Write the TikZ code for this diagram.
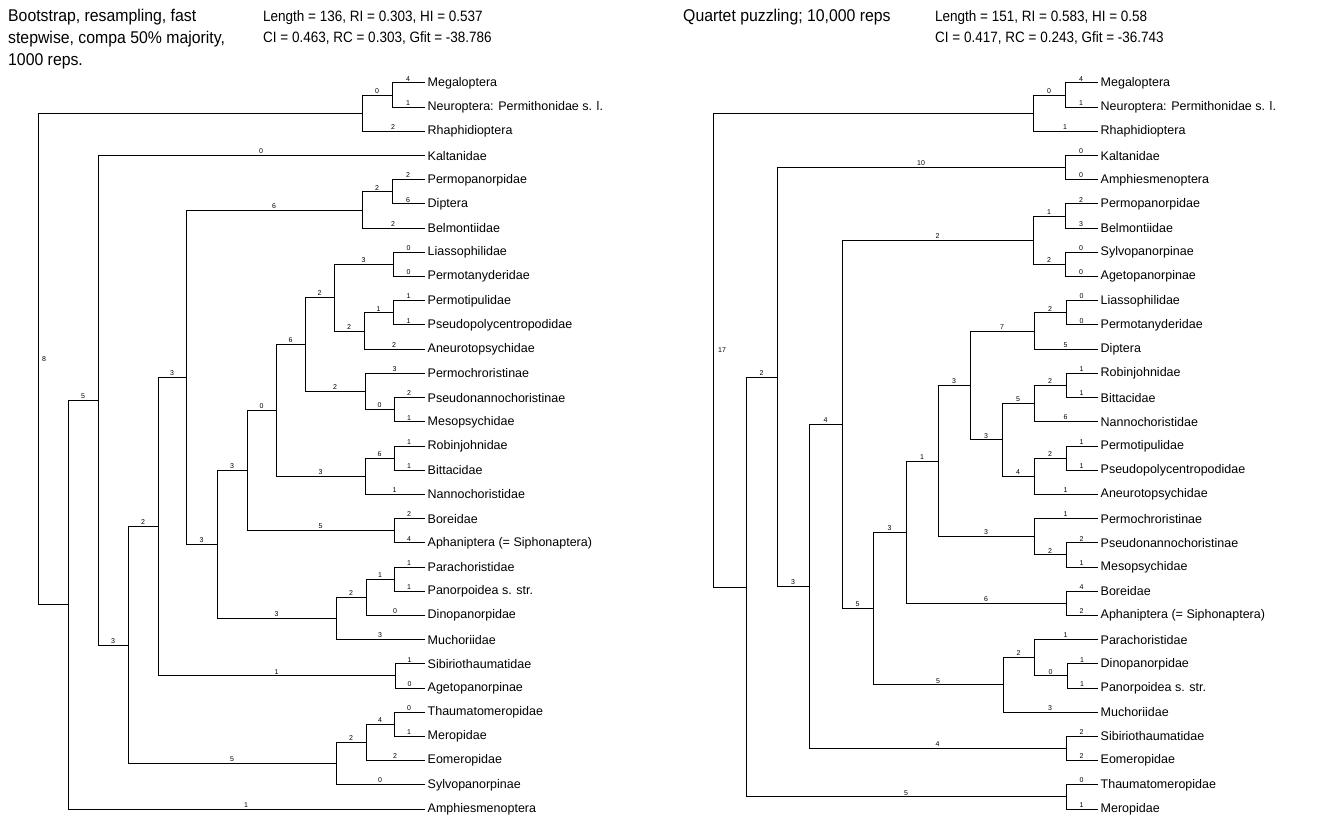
\documentclass[tikz,border=0pt]{standalone}
\usepackage{fontspec}
\setmainfont{Liberation Sans}
\newfontfamily\hdr[FakeStretch=0.93]{Liberation Sans}
\newfontfamily\sts[FakeStretch=0.9]{Liberation Sans}
\tikzset{
  branch/.style={draw=black, line width=1pt, line cap=rect},
  num/.style={pos=0.75, anchor=south, yshift=1.3pt, inner sep=0pt, font=\fontsize{7}{8}\selectfont},
  leaf/.style={anchor=west, inner sep=0pt, font=\fontsize{12.5}{14}\selectfont},
  title/.style={anchor=base west, inner sep=0pt, font=\hdr\fontsize{17}{20}\selectfont},
  stat/.style={anchor=base west, inner sep=0pt, font=\sts\fontsize{15}{18}\selectfont}
}
\newcommand\Lf[4]{\coordinate (#1) at (#2,#3); \node[leaf] (#1t) at ([xshift=3.5pt]#1) {#4};}
\newcommand\E[3]{\draw[branch] (#1) |- node[num]{#3} (#2);}
\begin{document}
\begin{tikzpicture}[x=1pt,y=-1pt]
\path[use as bounding box] (0,0) rectangle (1323,818);
% ---------------- headers
\node[title] (h1) at (8,22) {Bootstrap, resampling, fast};
\node[title] (h2) at (8,44) {stepwise, compa 50\% majority,};
\node[title] (h3) at (8,65.5) {1000 reps.};
\node[stat] (s1) at (263,21.5) {Length = 136, RI = 0.303, HI = 0.537};
\node[stat] (s2) at (263,43) {CI = 0.463, RC = 0.303, Gfit = -38.786};
\node[title] (h4) at (683,21.5) {Quartet puzzling; 10,000 reps};
\node[stat] (s3) at (935,21.5) {Length = 151, RI = 0.583, HI = 0.58};
\node[stat] (s4) at (935,43) {CI = 0.417, RC = 0.243, Gfit = -36.743};
% ---------------- left tree leaves
\Lf{a1}{424}{83}{Megaloptera}
\Lf{a2}{424}{107.2}{Neuroptera: Permithonidae s. l.}
\Lf{a3}{424}{131.4}{Rhaphidioptera}
\Lf{a4}{424}{155.6}{Kaltanidae}
\Lf{a5}{424}{179.8}{Permopanorpidae}
\Lf{a6}{424}{204}{Diptera}
\Lf{a7}{424}{228.2}{Belmontiidae}
\Lf{a8}{424}{252.4}{Liassophilidae}
\Lf{a9}{424}{276.6}{Permotanyderidae}
\Lf{a10}{424}{300.8}{Permotipulidae}
\Lf{a11}{424}{325}{Pseudopolycentropodidae}
\Lf{a12}{424}{349.2}{Aneurotopsychidae}
\Lf{a13}{424}{373.4}{Permochroristinae}
\Lf{a14}{424}{397.6}{Pseudonannochoristinae}
\Lf{a15}{424}{421.8}{Mesopsychidae}
\Lf{a16}{424}{446}{Robinjohnidae}
\Lf{a17}{424}{470.2}{Bittacidae}
\Lf{a18}{424}{494.4}{Nannochoristidae}
\Lf{a19}{424}{518.6}{Boreidae}
\Lf{a20}{424}{542.8}{Aphaniptera (= Siphonaptera)}
\Lf{a21}{424}{567}{Parachoristidae}
\Lf{a22}{424}{591.2}{Panorpoidea s. str.}
\Lf{a23}{424}{615.4}{Dinopanorpidae}
\Lf{a24}{424}{639.6}{Muchoriidae}
\Lf{a25}{424}{663.8}{Sibiriothaumatidae}
\Lf{a26}{424}{688}{Agetopanorpinae}
\Lf{a27}{424}{712.2}{Thaumatomeropidae}
\Lf{a28}{424}{736.4}{Meropidae}
\Lf{a29}{424}{760.6}{Eomeropidae}
\Lf{a30}{424}{784.8}{Sylvopanorpinae}
\Lf{a31}{424}{809}{Amphiesmenoptera}
% left internal nodes
\coordinate (aR) at (38,358.97);
\coordinate (aN1) at (362,113.25);
\coordinate (aN2) at (392,95.1);
\coordinate (aB) at (68,604.68);
\coordinate (aC) at (98,400.36);
\coordinate (aD) at (128,645.11);
\coordinate (aE) at (158,526.59);
\coordinate (aF) at (186,377.28);
\coordinate (aG) at (217,544.5);
\coordinate (aH) at (247,470.58);
\coordinate (aI) at (276,410.46);
\coordinate (aJ) at (305,344.66);
\coordinate (aK) at (334,297.78);
\coordinate (aPDa) at (362,210.05);
\coordinate (aPDb) at (392,191.9);
\coordinate (aLS) at (393,264.5);
\coordinate (aPTa) at (364,331.05);
\coordinate (aPTb) at (393,312.9);
\coordinate (aPMa) at (365,391.55);
\coordinate (aPMb) at (394,409.7);
\coordinate (aRBa) at (365,476.25);
\coordinate (aRBb) at (394,458.1);
\coordinate (aBO) at (394,530.7);
\coordinate (aPa) at (336,618.43);
\coordinate (aPb) at (366,597.25);
\coordinate (aPc) at (394,579.1);
\coordinate (aSB) at (395,675.9);
\coordinate (aTa) at (336,763.63);
\coordinate (aTb) at (366,742.45);
\coordinate (aTc) at (394,724.3);
% left edges
\E{aR}{aN1}{}
\E{aR}{aB}{}
\node[inner sep=0pt, font=\fontsize{7}{8}\selectfont] (aRl) at (44,359) {8};
\E{aN1}{aN2}{0}
\E{aN2}{a1}{4}
\E{aN2}{a2}{1}
\E{aN1}{a3}{2}
\E{aB}{aC}{5}
\E{aB}{a31}{1}
\E{aC}{a4}{0}
\E{aC}{aD}{3}
\E{aD}{aE}{2}
\E{aD}{aTa}{5}
\E{aE}{aF}{3}
\E{aE}{aSB}{1}
\E{aSB}{a25}{1}
\E{aSB}{a26}{0}
\E{aF}{aPDa}{6}
\E{aF}{aG}{3}
\E{aPDa}{aPDb}{2}
\E{aPDb}{a5}{2}
\E{aPDb}{a6}{6}
\E{aPDa}{a7}{2}
\E{aG}{aH}{3}
\E{aG}{aPa}{3}
\E{aH}{aI}{0}
\E{aH}{aBO}{5}
\E{aBO}{a19}{2}
\E{aBO}{a20}{4}
\E{aI}{aJ}{6}
\E{aI}{aRBa}{3}
\E{aRBa}{aRBb}{6}
\E{aRBb}{a16}{1}
\E{aRBb}{a17}{1}
\E{aRBa}{a18}{1}
\E{aJ}{aK}{2}
\E{aJ}{aPMa}{2}
\E{aK}{aLS}{3}
\E{aLS}{a8}{0}
\E{aLS}{a9}{0}
\E{aK}{aPTa}{2}
\E{aPTa}{aPTb}{1}
\E{aPTb}{a10}{1}
\E{aPTb}{a11}{1}
\E{aPTa}{a12}{2}
\E{aPMa}{a13}{3}
\E{aPMa}{aPMb}{0}
\E{aPMb}{a14}{2}
\E{aPMb}{a15}{1}
\E{aPa}{aPb}{2}
\E{aPb}{aPc}{1}
\E{aPc}{a21}{1}
\E{aPc}{a22}{1}
\E{aPb}{a23}{0}
\E{aPa}{a24}{3}
\E{aTa}{aTb}{2}
\E{aTb}{aTc}{4}
\E{aTc}{a27}{0}
\E{aTc}{a28}{1}
\E{aTb}{a29}{2}
\E{aTa}{a30}{0}
% ---------------- right tree leaves
\Lf{b1}{1097}{83}{Megaloptera}
\Lf{b2}{1097}{107.2}{Neuroptera: Permithonidae s. l.}
\Lf{b3}{1097}{131.4}{Rhaphidioptera}
\Lf{b4}{1097}{155.6}{Kaltanidae}
\Lf{b5}{1097}{179.8}{Amphiesmenoptera}
\Lf{b6}{1097}{204}{Permopanorpidae}
\Lf{b7}{1097}{228.2}{Belmontiidae}
\Lf{b8}{1097}{252.4}{Sylvopanorpinae}
\Lf{b9}{1097}{276.6}{Agetopanorpinae}
\Lf{b10}{1097}{300.8}{Liassophilidae}
\Lf{b11}{1097}{325}{Permotanyderidae}
\Lf{b12}{1097}{349.2}{Diptera}
\Lf{b13}{1097}{373.4}{Robinjohnidae}
\Lf{b14}{1097}{397.6}{Bittacidae}
\Lf{b15}{1097}{421.8}{Nannochoristidae}
\Lf{b16}{1097}{446}{Permotipulidae}
\Lf{b17}{1097}{470.2}{Pseudopolycentropodidae}
\Lf{b18}{1097}{494.4}{Aneurotopsychidae}
\Lf{b19}{1097}{518.6}{Permochroristinae}
\Lf{b20}{1097}{542.8}{Pseudonannochoristinae}
\Lf{b21}{1097}{567}{Mesopsychidae}
\Lf{b22}{1097}{591.2}{Boreidae}
\Lf{b23}{1097}{615.4}{Aphaniptera (= Siphonaptera)}
\Lf{b24}{1097}{639.6}{Parachoristidae}
\Lf{b25}{1097}{663.8}{Dinopanorpidae}
\Lf{b26}{1097}{688}{Panorpoidea s. str.}
\Lf{b27}{1097}{712.2}{Muchoriidae}
\Lf{b28}{1097}{736.4}{Sibiriothaumatidae}
\Lf{b29}{1097}{760.6}{Eomeropidae}
\Lf{b30}{1097}{784.8}{Thaumatomeropidae}
\Lf{b31}{1097}{809}{Meropidae}
% right internal nodes
\coordinate (bR) at (713,350.1);
\coordinate (bN1) at (1033,113.25);
\coordinate (bN2) at (1065,95.1);
\coordinate (bKA) at (1065,167.7);
\coordinate (bQa) at (1033,240.3);
\coordinate (bQb) at (1065,216.1);
\coordinate (bQc) at (1065,264.5);
\coordinate (bLa) at (1034,331.05);
\coordinate (bLb) at (1066,312.9);
\coordinate (bRBb) at (1066,385.5);
\coordinate (bRBa) at (1034,403.65);
\coordinate (bPTb) at (1066,458.1);
\coordinate (bPTa) at (1034,476.25);
\coordinate (bR9) at (1002,439.95);
\coordinate (bR8) at (970,385.5);
\coordinate (bPMb) at (1066,554.9);
\coordinate (bPMa) at (1034,536.75);
\coordinate (bR7) at (938,461.13);
\coordinate (bBO) at (1066,603.3);
\coordinate (bR6) at (906,532.21);
\coordinate (bPc) at (1067,675.9);
\coordinate (bPb) at (1034,657.75);
\coordinate (bPa) at (1003,684.98);
\coordinate (bR5) at (873,608.6);
\coordinate (bR4) at (842,424.45);
\coordinate (bSB) at (1066,748.5);
\coordinate (bR3) at (809,586.48);
\coordinate (bR2) at (777,377.09);
\coordinate (bTM) at (1066,796.9);
\coordinate (bR1) at (746,587);
% right edges
\E{bR}{bN1}{}
\E{bR}{bR1}{}
\node[inner sep=0pt, font=\fontsize{7}{8}\selectfont] (bRl) at (722,350) {17};
\E{bN1}{bN2}{0}
\E{bN2}{b1}{4}
\E{bN2}{b2}{1}
\E{bN1}{b3}{1}
\E{bR1}{bR2}{2}
\E{bR1}{bTM}{5}
\E{bTM}{b30}{0}
\E{bTM}{b31}{1}
\E{bR2}{bKA}{10}
\E{bKA}{b4}{0}
\E{bKA}{b5}{0}
\E{bR2}{bR3}{3}
\E{bR3}{bR4}{4}
\E{bR3}{bSB}{4}
\E{bSB}{b28}{2}
\E{bSB}{b29}{2}
\E{bR4}{bQa}{2}
\E{bQa}{bQb}{1}
\E{bQb}{b6}{2}
\E{bQb}{b7}{3}
\E{bQa}{bQc}{2}
\E{bQc}{b8}{0}
\E{bQc}{b9}{0}
\E{bR4}{bR5}{5}
\E{bR5}{bR6}{3}
\E{bR5}{bPa}{5}
\E{bPa}{bPb}{2}
\E{bPb}{b24}{1}
\E{bPb}{bPc}{0}
\E{bPc}{b25}{1}
\E{bPc}{b26}{1}
\E{bPa}{b27}{3}
\E{bR6}{bR7}{1}
\E{bR6}{bBO}{6}
\E{bBO}{b22}{4}
\E{bBO}{b23}{2}
\E{bR7}{bR8}{3}
\E{bR7}{bPMa}{3}
\E{bPMa}{b19}{1}
\E{bPMa}{bPMb}{2}
\E{bPMb}{b20}{2}
\E{bPMb}{b21}{1}
\E{bR8}{bLa}{7}
\E{bLa}{bLb}{2}
\E{bLb}{b10}{0}
\E{bLb}{b11}{0}
\E{bLa}{b12}{5}
\E{bR8}{bR9}{3}
\E{bR9}{bRBa}{5}
\E{bRBa}{bRBb}{2}
\E{bRBb}{b13}{1}
\E{bRBb}{b14}{1}
\E{bRBa}{b15}{6}
\E{bR9}{bPTa}{4}
\E{bPTa}{bPTb}{2}
\E{bPTb}{b16}{1}
\E{bPTb}{b17}{1}
\E{bPTa}{b18}{1}
\end{tikzpicture}
\end{document}
